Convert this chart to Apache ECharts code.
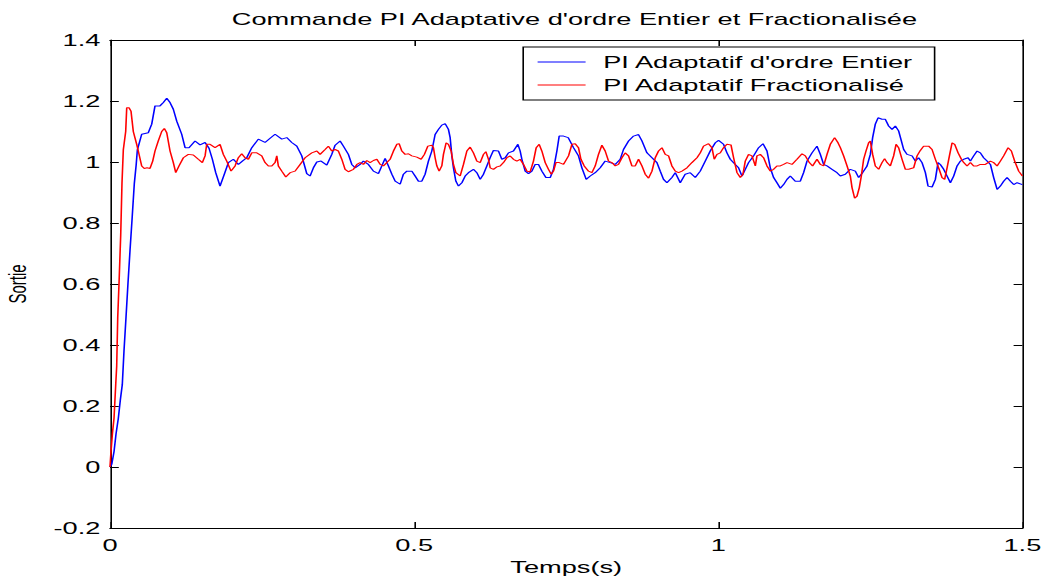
<!DOCTYPE html>
<html>
<head>
<meta charset="utf-8">
<script src="https://cdn.jsdelivr.net/npm/echarts@6/dist/echarts.min.js"></script>
<style>
  html, body { margin: 0; padding: 0; background: #fff; overflow: hidden; }
  /* the figure is laid out narrow and widened to the final page width */
  #chart { width: 654px; height: 580px; transform: scaleX(1.6); transform-origin: 0 0; }
</style>
</head>
<body>
<div id="chart"></div>
<script>
// Axis ticks
const xTicks = [0, 0.5, 1, 1.5];
const xTickLabels = ['0', '0.5', '1', '1.5'];
const yTicks = [-0.2, 0, 0.2, 0.4, 0.6, 0.8, 1, 1.2, 1.4];
const yTickLabels = ['-0.2', '0', '0.2', '0.4', '0.6', '0.8', '1', '1.2', '1.4'];

const seriesNames = ["PI Adaptatif d'ordre Entier", 'PI Adaptatif Fractionalisé'];

// Step response, integer-order adaptive PI: [time (s), output]
const entierResp = [
  [0,0.00],[0.003,0.01],[0.0066,0.05],[0.010,0.11],[0.0137,0.16],[0.017,0.22],[0.0202,0.27],[0.023,0.38],
  [0.0263,0.49],[0.0295,0.60],[0.0329,0.71],[0.0365,0.82],[0.040,0.93],[0.043,0.99],[0.045,1.04],
  [0.0521,1.091],[0.063,1.096],[0.0686,1.124],[0.074,1.184],[0.0822,1.184],[0.0877,1.195],[0.0933,1.209],
  [0.0987,1.195],[0.1041,1.173],[0.1097,1.134],[0.1179,1.091],[0.1234,1.047],[0.1299,1.047],[0.1398,1.069],
  [0.148,1.056],[0.1563,1.064],[0.1628,1.045],[0.1683,1.009],[0.1738,0.965],[0.1809,0.921],[0.188,0.96],
  [0.1946,0.998],[0.2028,1.009],[0.211,0.992],[0.2176,1.003],[0.2248,1.014],[0.2331,1.047],[0.2439,1.075],
  [0.2549,1.064],[0.2632,1.078],[0.2714,1.091],[0.2824,1.075],[0.2906,1.08],[0.2988,1.064],[0.3071,1.052],
  [0.3153,1.02],[0.3235,0.962],[0.3289,0.954],[0.3344,0.981],[0.34,1.0],[0.347,1.003],[0.3564,0.99],
  [0.3646,1.025],[0.3701,1.055],[0.3783,1.069],[0.3837,1.052],[0.3919,1.025],[0.3975,0.992],[0.403,0.981],
  [0.4112,0.992],[0.4166,1.003],[0.4248,0.992],[0.4331,0.97],[0.4413,0.962],[0.4469,0.987],[0.4523,1.012],
  [0.4577,0.987],[0.4633,0.96],[0.4688,0.937],[0.477,0.927],[0.4824,0.96],[0.488,0.97],[0.4962,0.97],
  [0.5016,0.954],[0.5071,0.937],[0.5127,0.937],[0.5181,0.96],[0.5235,1.003],[0.5291,1.036],[0.5345,1.09],
  [0.54,1.107],[0.5455,1.121],[0.551,1.126],[0.5564,1.107],[0.5592,1.08],[0.562,1.02],[0.5646,0.981],
  [0.5686,0.937],[0.5729,0.921],[0.5785,0.932],[0.5839,0.954],[0.5893,0.965],[0.5975,0.976],[0.6031,0.965],
  [0.6086,0.943],[0.614,0.96],[0.6196,0.987],[0.625,1.014],[0.6304,1.038],[0.6387,1.036],[0.6442,1.009],
  [0.6497,1.014],[0.6551,1.03],[0.6633,1.036],[0.6706,1.058],[0.6743,1.036],[0.6771,1.009],[0.6826,0.97],
  [0.688,0.962],[0.6936,0.97],[0.699,0.992],[0.7044,0.992],[0.71,0.97],[0.7166,0.949],[0.7237,0.949],
  [0.7291,0.976],[0.7347,1.036],[0.7385,1.085],[0.7456,1.085],[0.7533,1.08],[0.762,1.047],[0.7702,1.02],
  [0.7758,0.981],[0.7829,0.943],[0.7895,0.954],[0.7977,0.965],[0.8059,0.981],[0.8141,1.003],[0.8224,0.998],
  [0.8306,0.992],[0.8388,1.009],[0.8442,1.041],[0.8525,1.069],[0.8607,1.085],[0.8689,1.09],[0.8745,1.069],
  [0.8827,1.03],[0.891,1.014],[0.8992,0.998],[0.9046,0.97],[0.91,0.943],[0.9156,0.932],[0.9238,0.949],
  [0.9293,0.965],[0.9375,0.932],[0.9457,0.96],[0.9539,0.965],[0.9622,0.949],[0.9704,0.97],[0.9786,1.003],
  [0.9868,1.036],[0.9951,1.063],[1.0005,1.071],[1.0087,1.058],[1.0143,1.03],[1.0197,1.009],[1.028,0.992],
  [1.0334,0.981],[1.039,0.954],[1.0444,0.976],[1.0498,0.998],[1.0581,1.02],[1.0663,1.047],[1.0735,1.06],
  [1.0801,1.036],[1.0855,0.981],[1.091,0.949],[1.0965,0.932],[1.102,0.914],[1.1074,0.926],[1.113,0.943],
  [1.1184,0.954],[1.1266,0.937],[1.1349,0.937],[1.1403,0.965],[1.1459,1.003],[1.1541,1.03],[1.1623,1.052],
  [1.1678,1.025],[1.1732,0.992],[1.1788,0.987],[1.187,0.976],[1.1952,0.965],[1.2007,0.954],[1.2089,0.96],
  [1.2171,0.976],[1.2253,0.97],[1.2308,0.949],[1.2373,0.965],[1.2446,0.987],[1.25,1.025],[1.2538,1.08],
  [1.2582,1.124],[1.2627,1.145],[1.2692,1.14],[1.2747,1.14],[1.2801,1.118],[1.2857,1.107],[1.2911,1.118],
  [1.2965,1.102],[1.301,1.069],[1.3048,1.041],[1.3103,1.025],[1.3186,1.02],[1.324,1.003],[1.3294,1.014],
  [1.335,0.998],[1.3405,0.965],[1.3449,0.921],[1.3515,0.918],[1.3569,0.943],[1.3613,0.998],[1.3651,0.992],
  [1.3706,0.976],[1.3762,0.954],[1.3816,0.932],[1.387,0.954],[1.3926,0.987],[1.398,1.003],[1.4035,1.009],
  [1.4107,1.014],[1.4145,1.003],[1.4199,1.02],[1.4255,1.036],[1.4309,1.03],[1.4363,1.014],[1.4419,1.003],
  [1.4474,0.992],[1.4528,0.949],[1.4584,0.91],[1.4638,0.921],[1.4692,0.937],[1.4748,0.949],[1.4803,0.937],
  [1.4857,0.926],[1.4913,0.932],[1.5,0.926]
];

// Step response, fractional-order adaptive PI: [time (s), output]
const fracResp = [
  [0,0.00],[0.0016,0.05],[0.004,0.11],[0.0066,0.16],[0.0094,0.27],[0.011,0.33],[0.0127,0.49],[0.0148,0.60],
  [0.0176,0.76],[0.0197,0.93],[0.0219,1.04],[0.0258,1.10],[0.0275,1.178],[0.0312,1.178],[0.0345,1.167],
  [0.0383,1.10],[0.0439,1.058],[0.0465,1.036],[0.0521,0.987],[0.0564,0.979],[0.0609,0.981],[0.0658,0.979],
  [0.0702,1.003],[0.074,1.036],[0.0794,1.069],[0.085,1.10],[0.0893,1.11],[0.0933,1.096],[0.0987,1.036],
  [0.1041,0.998],[0.1081,0.965],[0.1135,0.987],[0.1206,1.014],[0.1288,1.025],[0.137,1.023],[0.1452,1.009],
  [0.1518,0.998],[0.1563,1.02],[0.159,1.058],[0.1645,1.058],[0.1727,1.047],[0.1809,1.058],[0.1863,1.025],
  [0.1919,1.003],[0.199,0.97],[0.2056,0.987],[0.211,1.014],[0.2166,1.027],[0.222,1.014],[0.2275,1.009],
  [0.2331,1.03],[0.2413,1.03],[0.2495,1.02],[0.2549,0.998],[0.2604,0.987],[0.266,0.987],[0.2714,0.998],
  [0.2742,1.02],[0.2768,0.987],[0.2824,0.97],[0.289,0.951],[0.2961,0.965],[0.3043,0.97],[0.3125,0.992],
  [0.3207,1.014],[0.3317,1.03],[0.34,1.036],[0.3454,1.025],[0.3536,1.041],[0.359,1.052],[0.3646,1.036],
  [0.3701,1.041],[0.3755,1.036],[0.3811,1.009],[0.3865,0.976],[0.3919,0.968],[0.4002,0.976],[0.4058,0.992],
  [0.4112,0.998],[0.4166,0.992],[0.4222,1.005],[0.4276,0.998],[0.4331,1.005],[0.4387,1.009],[0.4441,0.992],
  [0.4495,0.987],[0.4551,0.998],[0.4605,1.009],[0.466,1.036],[0.4715,1.058],[0.4753,1.06],[0.4798,1.036],
  [0.4852,1.025],[0.4906,1.027],[0.4962,1.02],[0.5044,1.016],[0.5115,1.009],[0.5169,1.025],[0.5225,1.052],
  [0.5291,1.055],[0.5317,1.047],[0.5345,1.014],[0.5373,0.987],[0.5411,0.97],[0.5455,0.987],[0.5482,1.025],
  [0.5526,1.063],[0.5564,1.058],[0.5609,1.036],[0.5646,0.992],[0.5686,0.965],[0.5757,0.954],[0.5811,0.992],
  [0.5867,1.036],[0.5921,1.049],[0.5975,1.03],[0.6031,1.003],[0.6086,0.998],[0.614,1.025],[0.6179,1.034],
  [0.6222,1.009],[0.625,0.981],[0.6304,0.976],[0.636,0.984],[0.6414,0.987],[0.6469,0.998],[0.6524,1.014],
  [0.6579,1.02],[0.6633,1.009],[0.6689,1.003],[0.6743,1.009],[0.6798,0.992],[0.6854,0.97],[0.6908,0.968],
  [0.6962,1.003],[0.7007,1.047],[0.7056,1.058],[0.71,1.036],[0.7155,0.998],[0.7209,0.976],[0.7253,0.96],
  [0.7291,0.97],[0.7331,0.998],[0.7385,0.998],[0.7456,0.992],[0.7538,1.02],[0.7594,1.058],[0.7648,1.06],
  [0.7702,1.047],[0.7742,1.009],[0.7796,0.987],[0.7867,0.97],[0.7923,0.965],[0.7977,0.987],[0.8031,1.025],
  [0.8087,1.055],[0.8141,1.036],[0.8196,1.003],[0.8252,0.998],[0.8306,0.987],[0.836,0.992],[0.8416,1.014],
  [0.847,1.03],[0.8525,1.02],[0.858,0.987],[0.8635,0.987],[0.8689,1.009],[0.8745,0.987],[0.8799,0.96],
  [0.8854,0.947],[0.891,0.97],[0.8964,1.014],[0.9018,1.036],[0.9074,1.047],[0.9128,1.025],[0.9183,1.02],
  [0.9238,0.987],[0.9293,0.97],[0.9347,0.965],[0.9403,0.97],[0.9485,0.981],[0.9567,0.998],[0.965,1.014],
  [0.9704,1.03],[0.9758,1.052],[0.984,1.06],[0.9896,1.047],[0.9934,1.009],[0.9979,1.025],[1.0033,1.03],
  [1.0087,1.047],[1.0143,1.058],[1.0209,1.056],[1.0252,1.014],[1.0308,0.965],[1.0362,0.949],[1.0406,0.96],
  [1.0444,1.003],[1.0498,1.025],[1.0554,1.02],[1.0609,0.987],[1.0636,1.02],[1.0691,1.025],[1.0745,1.014],
  [1.0801,0.987],[1.0855,0.97],[1.091,0.976],[1.0965,0.987],[1.102,0.987],[1.1074,0.992],[1.113,0.998],
  [1.1212,0.992],[1.1294,1.009],[1.1377,1.027],[1.1431,1.02],[1.1497,0.998],[1.1551,0.987],[1.1623,1.009],
  [1.1678,0.992],[1.1732,0.987],[1.1788,1.025],[1.1842,1.058],[1.1913,1.08],[1.1969,1.063],[1.2007,1.047],
  [1.2061,1.02],[1.2117,0.987],[1.2171,0.954],[1.2199,0.916],[1.2242,0.881],[1.2281,0.888],[1.2319,0.916],
  [1.2352,0.954],[1.239,1.009],[1.2429,1.036],[1.2472,1.063],[1.25,1.069],[1.2538,1.025],[1.2582,0.987],
  [1.2637,0.976],[1.2692,0.998],[1.2735,1.011],[1.2775,0.998],[1.2829,0.987],[1.2883,1.02],[1.2923,1.058],
  [1.2965,1.047],[1.3021,1.009],[1.3076,0.976],[1.313,0.976],[1.3212,0.981],[1.3268,1.02],[1.3322,1.038],
  [1.3377,1.052],[1.3459,1.052],[1.3515,1.041],[1.3569,1.009],[1.3623,0.981],[1.3679,0.949],[1.3722,0.943],
  [1.3762,0.981],[1.3805,1.025],[1.3844,1.063],[1.3887,1.058],[1.3943,1.03],[1.3997,1.009],[1.4035,0.998],
  [1.409,0.987],[1.4145,0.998],[1.4199,0.987],[1.4255,0.987],[1.4309,0.992],[1.4391,0.992],[1.4474,1.003],
  [1.4528,0.998],[1.4584,0.987],[1.4638,1.003],[1.4692,1.02],[1.4765,1.047],[1.4819,1.036],[1.4873,1.003],
  [1.4939,0.97],[1.5,0.954]
];

const FONT = "'Liberation Sans', Arial, sans-serif";
const BLACK = '#000000';

function tickLabel(ticks, labels) {
  return function (v) {
    let best = 0;
    for (let i = 1; i < ticks.length; i++) {
      if (Math.abs(ticks[i] - v) < Math.abs(ticks[best] - v)) best = i;
    }
    return labels[best];
  };
}

const xRange = {
  type: 'value',
  min: xTicks[0],
  max: xTicks[xTicks.length - 1],
  interval: xTicks[1] - xTicks[0],
  splitLine: { show: false },
  axisLine: { show: true, onZero: false, lineStyle: { color: BLACK, width: 1 } },
  axisTick: { show: true, inside: true, length: 6, lineStyle: { color: BLACK } }
};
const yRange = {
  type: 'value',
  min: yTicks[0],
  max: yTicks[yTicks.length - 1],
  interval: 0.2,
  splitLine: { show: false },
  axisLine: { show: true, onZero: false, lineStyle: { color: BLACK, width: 1 } },
  axisTick: { show: true, inside: true, length: 5.5, lineStyle: { color: BLACK } }
};

const chart = echarts.init(document.getElementById('chart'), null, { renderer: 'svg' });

chart.setOption({
  backgroundColor: '#ffffff',
  animation: false,
  title: {
    text: "Commande PI Adaptative d'ordre Entier et Fractionalisée",
    left: 354,
    textAlign: 'center',
    top: 6,
    textStyle: { fontFamily: FONT, fontSize: 17, fontWeight: 'normal', color: BLACK }
  },
  grid: { left: 68.75, right: 15, top: 40, bottom: 52, containLabel: false, outerBoundsMode: 'none' },
  legend: {
    orient: 'vertical',
    left: 327,
    top: 47,
    padding: [6, 13, 6, 9],
    icon: 'rect',
    itemWidth: 30,
    itemHeight: 1,
    itemGap: 5,
    borderColor: BLACK,
    borderWidth: 1,
    backgroundColor: '#ffffff',
    data: seriesNames,
    textStyle: { fontFamily: FONT, fontSize: 17, color: BLACK, lineHeight: 18, padding: [0, 0, 0, 6] }
  },
  xAxis: [
    Object.assign({}, xRange, {
      position: 'bottom',
      name: 'Temps(s)',
      nameLocation: 'middle',
      nameGap: 31,
      nameTextStyle: { fontFamily: FONT, fontSize: 17, color: BLACK },
      axisLabel: { fontFamily: FONT, fontSize: 17, color: BLACK, margin: 9,
                   formatter: tickLabel(xTicks, xTickLabels) }
    }),
    Object.assign({}, xRange, { position: 'top', axisLabel: { show: false } })
  ],
  yAxis: [
    Object.assign({}, yRange, {
      position: 'left',
      name: 'Sortie',
      nameLocation: 'middle',
      nameRotate: 90,
      nameGap: 50,
      nameTextStyle: { fontFamily: FONT, fontSize: 15, color: BLACK },
      axisLabel: { fontFamily: FONT, fontSize: 17, color: BLACK, margin: 6,
                   formatter: tickLabel(yTicks, yTickLabels) }
    }),
    Object.assign({}, yRange, { position: 'right', axisLabel: { show: false } })
  ],
  series: [
    {
      name: seriesNames[0],
      type: 'line',
      data: entierResp,
      symbol: 'none',
      lineStyle: { color: '#0000ff', width: 1 },
      itemStyle: { color: '#0000ff' },
      clip: true
    },
    {
      name: seriesNames[1],
      type: 'line',
      data: fracResp,
      symbol: 'none',
      lineStyle: { color: '#ff0000', width: 1 },
      itemStyle: { color: '#ff0000' },
      clip: true
    }
  ]
});
</script>
</body>
</html>
